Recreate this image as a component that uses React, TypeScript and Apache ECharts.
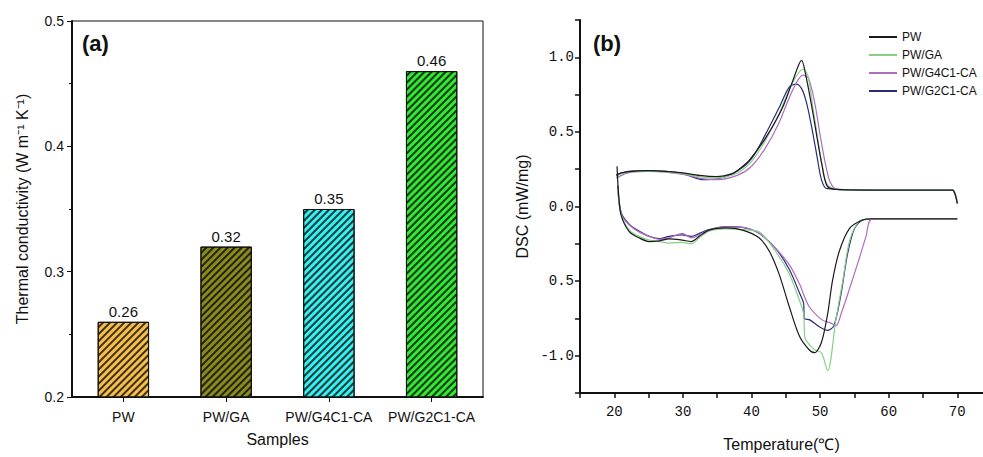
import React, { useEffect, useRef } from "react";
import * as echarts from "echarts";

// ---------- Panel (a): thermal conductivity ----------
const samples = ["PW", "PW/GA", "PW/G4C1-CA", "PW/G2C1-CA"];
const conductivity = [0.26, 0.32, 0.35, 0.46];
const barColors = ["#F6BE4C", "#8A8A1E", "#38EEEE", "#33E633"];

// ---------- Panel (b): DSC curves [temperature, DSC] ----------
const dscNames = ["PW", "PW/GA", "PW/G4C1-CA", "PW/G2C1-CA"];
const dscColors = ["#1a1a1a", "#86cf86", "#b06cc0", "#2b2a78"];

const pwCooling: [number, number][] = [
  [20.3, 0.21], [21, 0.225], [22.5, 0.235], [25, 0.24], [27.5, 0.235], [30, 0.225],
  [32.4, 0.208], [34.9, 0.2], [37.2, 0.22], [38.2, 0.25], [39.7, 0.31], [42.2, 0.47],
  [44.5, 0.66], [46, 0.84], [47.3, 0.98], [48, 0.86], [48.9, 0.64], [49.6, 0.45],
  [50.3, 0.27], [51, 0.14], [52.3, 0.115], [60, 0.11], [69.3, 0.11], [69.7, 0.08], [70, 0.02],
];
const pwHeating: [number, number][] = [
  [20.4, 0.27], [20.6, 0.1], [21, -0.06], [22.2, -0.17], [23.6, -0.21], [25.1, -0.235],
  [26.6, -0.23], [28, -0.217], [29.9, -0.225], [31.2, -0.235], [32.4, -0.2], [33.8, -0.158],
  [36.3, -0.143], [38.7, -0.158], [41.1, -0.21], [42.6, -0.3], [44, -0.45], [45.5, -0.67],
  [47, -0.87], [48.4, -0.96], [49.2, -0.98], [50.2, -0.91], [51.1, -0.72], [51.8, -0.5],
  [52.8, -0.3], [54.3, -0.146], [56.2, -0.09], [57.6, -0.082], [70, -0.082],
];
const gaCooling: [number, number][] = [
  [20.3, 0.2], [21, 0.22], [22.5, 0.232], [25, 0.237], [27.5, 0.232], [30, 0.22],
  [32.4, 0.2], [34.9, 0.19], [37.2, 0.21], [38.5, 0.24], [40, 0.3], [42, 0.44],
  [44, 0.62], [46, 0.83], [47.5, 0.92], [48.2, 0.88], [48.9, 0.68], [49.6, 0.47],
  [50.3, 0.28], [51, 0.15], [52.3, 0.115], [60, 0.11], [69.3, 0.11], [69.7, 0.08], [70, 0.03],
];
const gaHeating: [number, number][] = [
  [20.5, 0.12], [21, -0.05], [22.2, -0.16], [23.6, -0.2], [25.1, -0.225], [26.6, -0.235],
  [28, -0.245], [29.9, -0.24], [31.2, -0.25], [32.4, -0.21], [33.8, -0.165], [36.3, -0.15],
  [38.7, -0.155], [41.1, -0.17], [43.5, -0.3], [45.5, -0.45], [47, -0.63], [47.6, -0.72],
  [47.8, -0.88], [49.2, -0.96], [50.2, -0.98], [51.1, -1.1], [52.3, -0.76], [53.3, -0.5],
  [54.3, -0.23], [55.7, -0.1], [57.6, -0.082], [70, -0.082],
];
const g4Cooling: [number, number][] = [
  [20.3, 0.19], [22, 0.225], [25, 0.235], [27.5, 0.23], [30, 0.215], [33, 0.185],
  [35, 0.18], [38, 0.21], [40, 0.27], [42, 0.39], [44, 0.56], [46, 0.78], [47.5, 0.88],
  [48.3, 0.86], [49.2, 0.7], [50, 0.48], [50.8, 0.28], [51.5, 0.16], [52.5, 0.115],
  [60, 0.11], [69.3, 0.11], [69.7, 0.08], [70, 0.03],
];
const g4Heating: [number, number][] = [
  [20.5, 0.12], [21, -0.05], [22.2, -0.125], [23.6, -0.17], [25.1, -0.2], [26.6, -0.22],
  [28, -0.21], [29.9, -0.18], [31.2, -0.21], [32.4, -0.19], [33.8, -0.158], [36.3, -0.137],
  [38.7, -0.14], [41.1, -0.18], [43.5, -0.28], [45.5, -0.39], [47, -0.52], [48.4, -0.67],
  [50.3, -0.76], [51.5, -0.78], [52.3, -0.8], [53.2, -0.7], [54.3, -0.55], [55.7, -0.35],
  [56.7, -0.2], [57.6, -0.085], [70, -0.085],
];
const g2Cooling: [number, number][] = [
  [20.3, 0.21], [22, 0.235], [25, 0.24], [27.5, 0.235], [30, 0.22], [33, 0.18],
  [35, 0.185], [38, 0.24], [40, 0.32], [42, 0.48], [44, 0.66], [45.5, 0.8], [46.5, 0.82],
  [47.3, 0.79], [48, 0.7], [48.7, 0.55], [49.5, 0.35], [50.2, 0.18], [51, 0.12],
  [60, 0.11], [69.3, 0.11], [69.7, 0.08], [70, 0.02],
];
const g2Heating: [number, number][] = [
  [20.5, 0.14], [21, -0.04], [22.2, -0.12], [23.6, -0.165], [25.1, -0.2], [26.6, -0.215],
  [28, -0.2], [29.9, -0.19], [31.2, -0.2], [32.4, -0.18], [33.8, -0.155], [36.3, -0.135],
  [38.7, -0.14], [41.1, -0.18], [43.5, -0.28], [45.5, -0.42], [47, -0.58], [47.6, -0.65],
  [47.7, -0.75], [48.5, -0.76], [50, -0.81], [51, -0.83], [52, -0.8], [53, -0.6],
  [54, -0.32], [55, -0.15], [56.2, -0.09], [57.6, -0.085], [70, -0.085],
];

const dscCurves = [
  [pwCooling, pwHeating],
  [gaCooling, gaHeating],
  [g4Cooling, g4Heating],
  [g2Cooling, g2Heating],
];

const SANS = "'Liberation Sans', Arial, sans-serif";
const MONO = "'Liberation Mono', 'DejaVu Sans Mono', monospace";

export default function App() {
  const ref = useRef<HTMLDivElement>(null);

  useEffect(() => {
    if (!ref.current) return;
    const chart = echarts.init(ref.current, null, { renderer: "svg" });

    const barSeries = {
      type: "bar",
      xAxisIndex: 0,
      yAxisIndex: 0,
      barWidth: "50%",
      data: conductivity.map((v, i) => ({
        value: v,
        itemStyle: {
          color: barColors[i],
          borderColor: "#111",
          borderWidth: 1,
          decal: {
            symbol: "rect",
            symbolSize: 1,
            dashArrayX: [[1, 0]],
            dashArrayY: [1.5, 3],
            rotation: -Math.PI / 4,
            color: "rgba(0,0,0,0.75)",
          },
        },
      })),
      label: {
        show: true,
        position: "top",
        distance: 3,
        fontSize: 15,
        color: "#111",
        fontFamily: SANS,
        formatter: (p: any) => p.value.toFixed(2),
      },
    };

    const lineSeries: any[] = [];
    dscCurves.forEach((pair, i) => {
      pair.forEach((data) => {
        lineSeries.push({
          type: "line",
          name: dscNames[i],
          xAxisIndex: 1,
          yAxisIndex: 1,
          data,
          showSymbol: false,
          symbol: "none",
          smooth: 0.3,
          lineStyle: { color: dscColors[i], width: 1.2 },
          itemStyle: { color: dscColors[i] },
          z: 10 - i,
        });
      });
    });

    chart.setOption({
      animation: false,
      backgroundColor: "#ffffff",
      grid: [
        { left: 72, top: 21, width: 411, height: 376, show: true, borderColor: "#111", borderWidth: 1 },
        { left: 580, top: 20, width: 403, height: 380 },
      ],
      legend: {
        data: dscNames,
        orient: "vertical",
        left: 864,
        top: 26,
        itemWidth: 28,
        itemHeight: 2,
        itemGap: 6,
        icon: "rect",
        textStyle: { fontSize: 12, color: "#111", fontFamily: SANS },
      },
      xAxis: [
        {
          type: "category",
          gridIndex: 0,
          data: samples,
          axisLine: { lineStyle: { color: "#111", width: 2 } },
          axisTick: { show: true, alignWithLabel: true, length: 5, lineStyle: { color: "#111" } },
          axisLabel: { interval: 0, fontSize: 14, color: "#111", fontFamily: SANS, margin: 13 },
          name: "Samples",
          nameLocation: "middle",
          nameGap: 34,
          nameTextStyle: { fontSize: 16, color: "#111", fontFamily: SANS },
        },
        {
          type: "value",
          gridIndex: 1,
          min: 15,
          max: 73.75,
          interval: 5,
          splitLine: { show: false },
          axisLine: { onZero: false, lineStyle: { color: "#111", width: 2 } },
          axisTick: { show: true, length: 5, lineStyle: { color: "#111", width: 1.5 } },
          axisLabel: {
            fontSize: 14,
            color: "#111",
            fontFamily: MONO,
            margin: 12,
            showMaxLabel: false,
            formatter: (v: number) => (Math.abs(v % 10) < 1e-6 && v >= 20 ? String(v) : ""),
          },
          name: "Temperature(℃)",
          nameLocation: "middle",
          nameGap: 43,
          nameTextStyle: { fontSize: 16, color: "#111", fontFamily: SANS },
        },
      ],
      yAxis: [
        {
          type: "value",
          gridIndex: 0,
          min: 0.2,
          max: 0.5,
          interval: 0.1,
          splitLine: { show: false },
          axisLine: { show: true, lineStyle: { color: "#111", width: 2 } },
          axisTick: { show: true, length: 5, lineStyle: { color: "#111" } },
          minorTick: { show: true, splitNumber: 2, length: 3, lineStyle: { color: "#111" } },
          axisLabel: {
            fontSize: 14,
            color: "#111",
            fontFamily: SANS,
            margin: 8,
            formatter: (v: number) => v.toFixed(1),
          },
          name: "Thermal conductivity (W m⁻¹ K⁻¹)",
          nameLocation: "middle",
          nameGap: 42,
          nameTextStyle: { fontSize: 16, color: "#111", fontFamily: SANS },
        },
        {
          type: "value",
          gridIndex: 1,
          min: -1.25,
          max: 1.25,
          interval: 0.25,
          splitLine: { show: false },
          axisLine: { show: true, onZero: false, lineStyle: { color: "#111", width: 2 } },
          axisTick: { show: true, length: 5, lineStyle: { color: "#111", width: 1.5 } },
          axisLabel: {
            fontSize: 14,
            color: "#111",
            fontFamily: MONO,
            margin: 6,
            formatter: (v: number) => {
              const r = Math.round(v * 100) / 100;
              if (Math.abs(r * 2 - Math.round(r * 2)) > 1e-6 || Math.abs(r) > 1.1) return "";
              if (Math.abs(r + 0.5) < 1e-6) return "0.5";
              return r.toFixed(1);
            },
          },
          name: "DSC (mW/mg)",
          nameLocation: "middle",
          nameGap: 50,
          nameTextStyle: { fontSize: 16, color: "#111", fontFamily: SANS },
        },
      ],
      graphic: [
        { type: "text", left: 82, top: 32, style: { text: "(a)", fontSize: 22, fontWeight: "bold", fill: "#111", fontFamily: SANS } },
        { type: "text", left: 593, top: 32, style: { text: "(b)", fontSize: 22, fontWeight: "bold", fill: "#111", fontFamily: SANS } },
      ],
      series: [barSeries, ...lineSeries],
    });

    return () => chart.dispose();
  }, []);

  return (
    <div
      ref={ref}
      style={{ position: "absolute", left: 0, top: 0, width: 983, height: 457, background: "#fff" }}
    />
  );
}
